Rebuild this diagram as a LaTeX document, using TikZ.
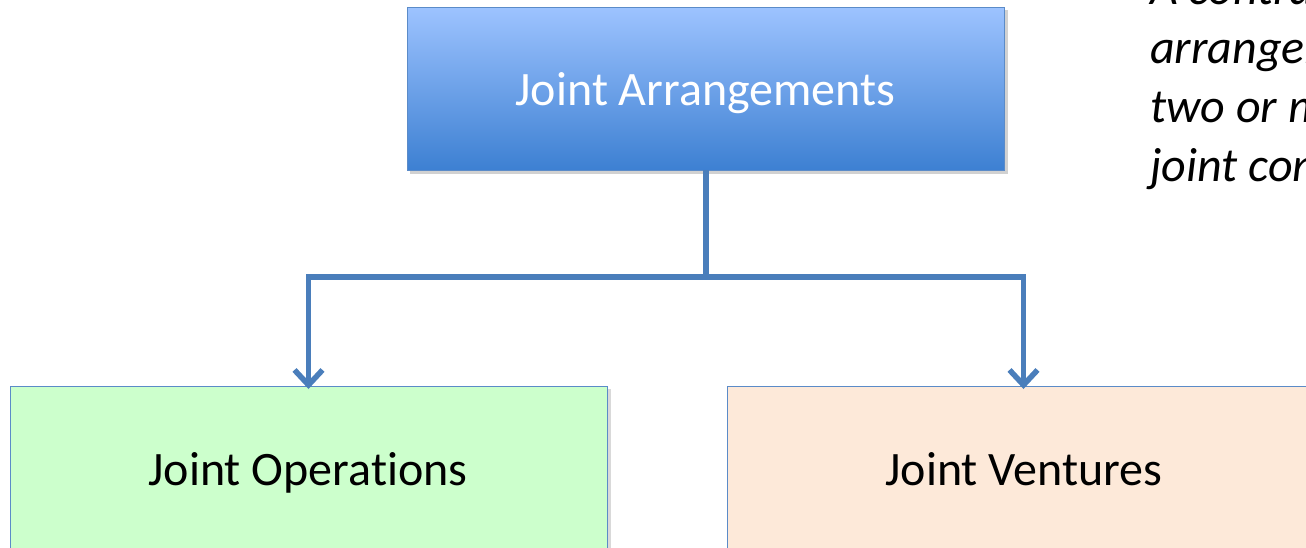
\documentclass[tikz,border=0pt]{standalone}
\usepackage{fontspec}
\setmainfont[Ligatures={NoCommon}]{Carlito}
\usetikzlibrary{arrows.meta}
\definecolor{linkblue}{HTML}{4A7EBB}
\definecolor{boxedge}{HTML}{5B8BC8}
\definecolor{topA}{HTML}{9DC3FF}
\definecolor{topB}{HTML}{3D80D2}
\definecolor{greenfill}{HTML}{CCFFCC}
\definecolor{peachfill}{HTML}{FDE9D9}
\tikzset{
  boxlabel/.style={anchor=base, font=\fontsize{48}{58}\selectfont},
  link/.style={draw=linkblue, line width=5.5pt, line join=miter},
  linkarrow/.style={link, -{Straight Barb[length=15pt,width=28pt,line width=5.5pt]}},
  sidetext/.style={anchor=base west, font=\fontsize{48}{59}\selectfont\itshape, inner sep=0},
}
\begin{document}
\begin{tikzpicture}[x=1pt,y={(0,-1pt)}]
\useasboundingbox (0,0) rectangle (1306,547);
\begin{scope}
\clip (0,0) rectangle (1306,547);
% top box shadow
\fill[black,opacity=0.18] (410,10) rectangle (1008,174);
% top box
\shade[top color=topA, bottom color=topB, draw=boxedge, line width=1pt] (407,7) rectangle (1004,170);
\node (top) at (705.5,88.5) [minimum width=597pt, minimum height=163pt, inner sep=0] {};
\node[boxlabel, text=white] (toplabel) at (705.5,105) {Joint Arrangements};
% bottom boxes
\fill[black,opacity=0.15] (13,389) rectangle (611,560);
\draw[fill=greenfill, draw=boxedge, line width=1pt] (10,386) rectangle (607,560);
\node (ops) at (308.5,386) [anchor=north, minimum width=597pt, minimum height=174pt, inner sep=0] {};
\node[boxlabel] (opslabel) at (308,485) {Joint Operations};
\fill[black,opacity=0.15] (730,389) rectangle (1330,560);
\draw[fill=peachfill, draw=boxedge, line width=1pt] (727,386) rectangle (1324,560);
\node (jv) at (1025.5,386) [anchor=north, minimum width=597pt, minimum height=174pt, inner sep=0] {};
\node[boxlabel] (jvlabel) at (1024,485) {Joint Ventures};
% connectors
\coordinate (mid) at (706,277);
\draw[link] (top.south -| mid) -- (mid);
\draw[linkarrow] (mid) -| ([yshift=-3pt]ops.north);
\draw[linkarrow] (mid) -| ([xshift=-2pt,yshift=-3pt]jv.north);
% side text
\node[sidetext] (d1) at (1150,4) {A contractual};
\node[sidetext] (d2) at (1150,63) {arrangement in which};
\node[sidetext] (d3) at (1150,122) {two or more parties have};
\node[sidetext] (d4) at (1150,181) {joint control.};
\end{scope}
\end{tikzpicture}
\end{document}
